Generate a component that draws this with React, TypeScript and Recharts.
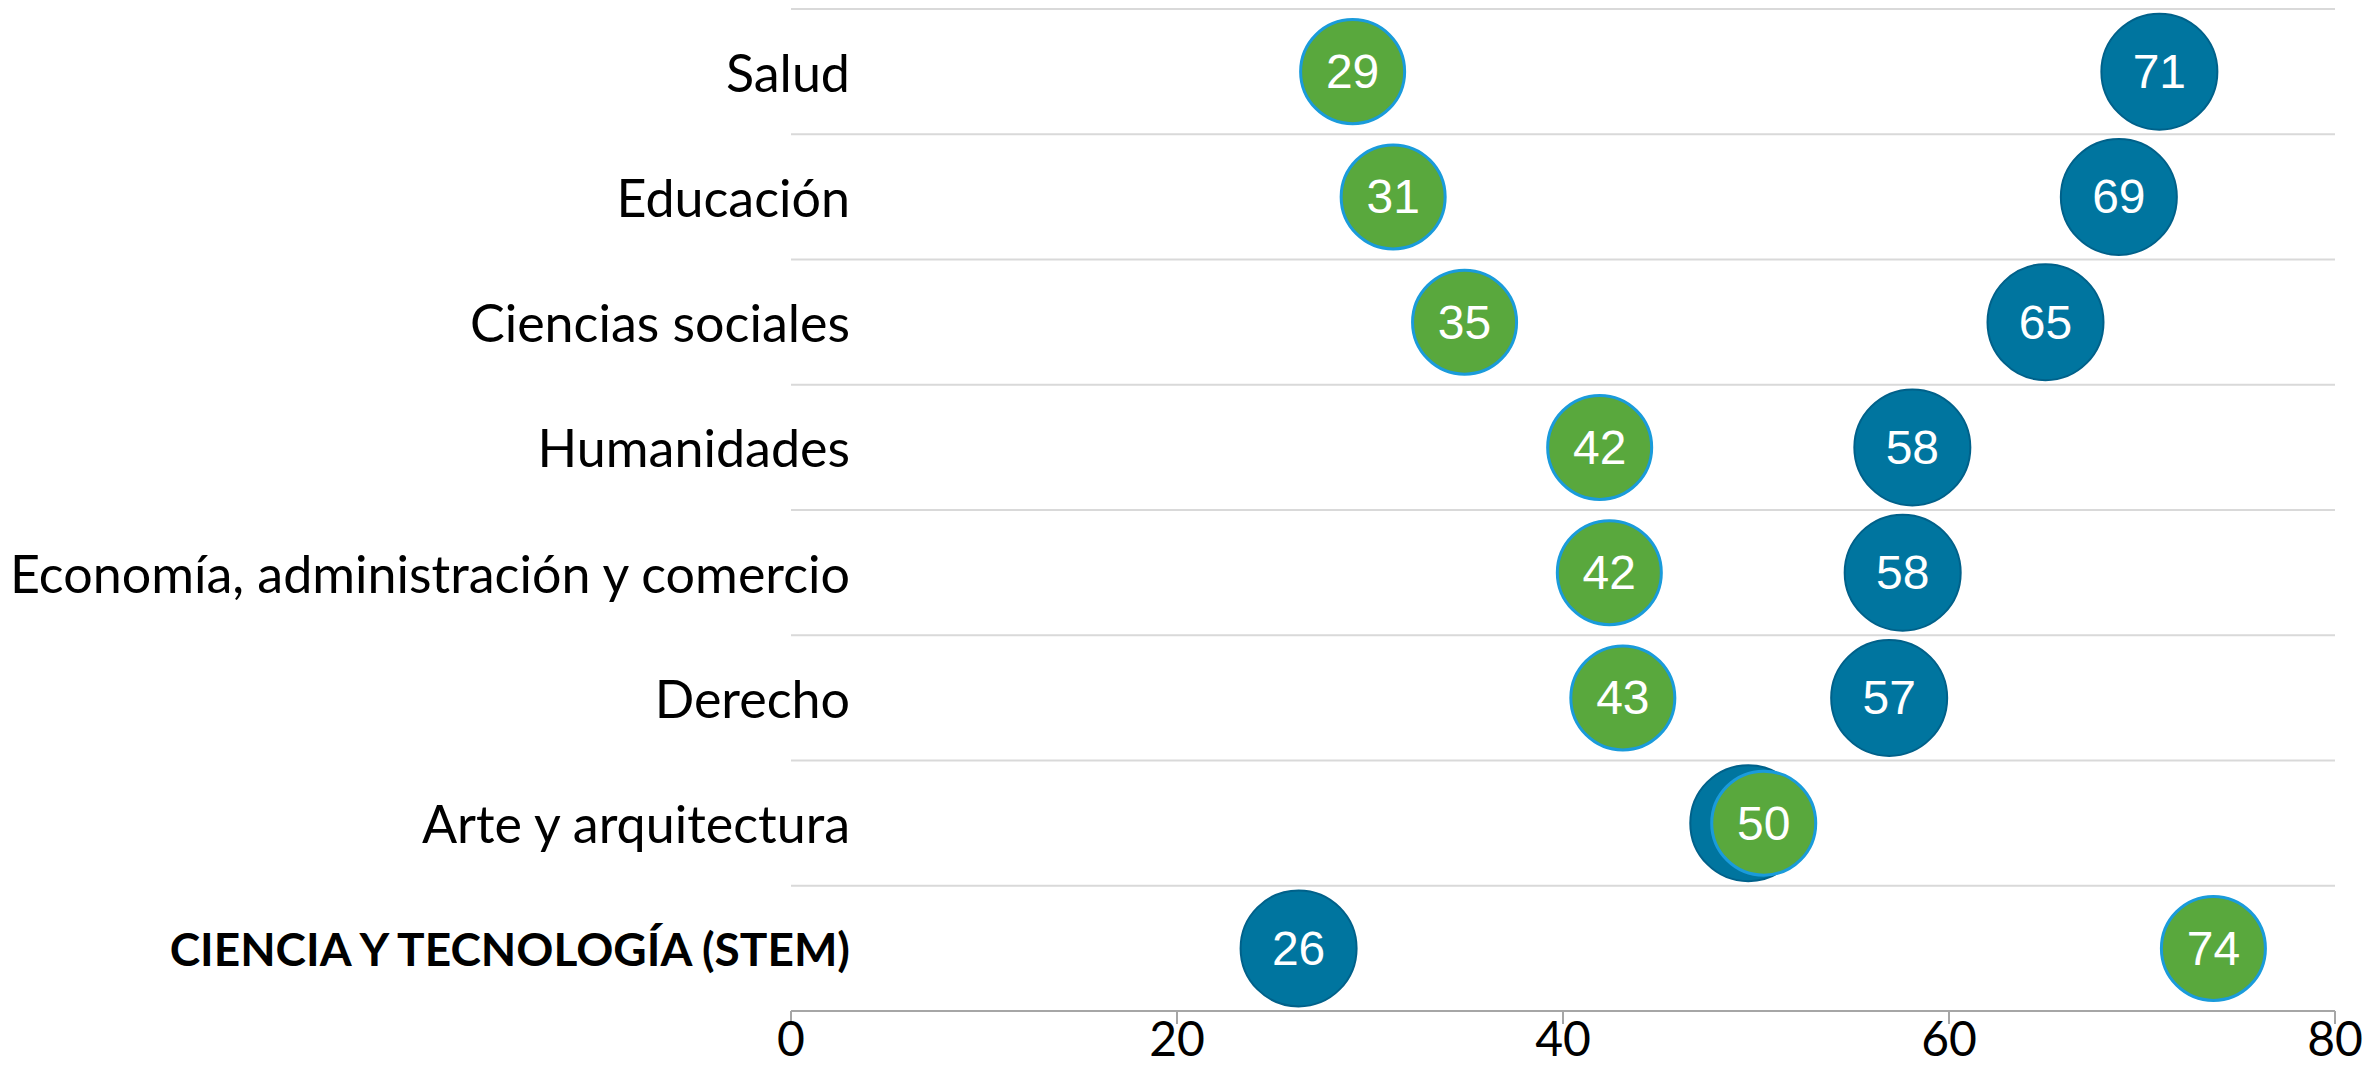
import React from 'react';
import { ReferenceLine, Scatter, ScatterChart, XAxis, YAxis } from 'recharts';

const categories = [
  'Salud',
  'Educación',
  'Ciencias sociales',
  'Humanidades',
  'Economía, administración y comercio',
  'Derecho',
  'Arte y arquitectura',
  'CIENCIA Y TECNOLOGÍA (STEM)',
];

const blueValues = [70.9, 68.8, 65.0, 58.1, 57.6, 56.9, 49.6, 26.3];
const greenValues = [29.1, 31.2, 34.9, 41.9, 42.4, 43.1, 50.4, 73.7];
const xTicks = [0, 20, 40, 60, 80];

const boldCategory = 'CIENCIA Y TECNOLOGÍA (STEM)';

const labelFont = 'Lato, "Noto Sans", sans-serif';
const bubbleFont = '"Liberation Sans", Arial, sans-serif';

// the blue label is hidden when the green bubble sits on top of it
const toPoints = (values: number[], others: number[] | null) =>
  values.map((value, i) => ({
    x: value,
    y: i + 0.5,
    label: others && Math.abs(others[i] - value) < 5 ? '' : String(Math.round(value)),
  }));

const bluePoints = toPoints(blueValues, greenValues);
const greenPoints = toPoints(greenValues, null);

const yTicks = categories.map((_, i) => i + 0.5);
const gridRows = categories.map((_, i) => i);

const makeBubble = (r: number, fill: string, stroke: string, strokeWidth: number) => {
  const Bubble = (props: any) => {
    const { cx, cy, payload } = props;
    if (cx == null || cy == null) return null;
    return (
      <g>
        <circle cx={cx} cy={cy} r={r} fill={fill} stroke={stroke} strokeWidth={strokeWidth} />
        {payload.label ? (
          <text
            x={cx}
            y={cy}
            textAnchor="middle"
            dominantBaseline="central"
            fill="#ffffff"
            fontFamily={bubbleFont}
            fontSize={48}
          >
            {payload.label}
          </text>
        ) : null}
      </g>
    );
  };
  return Bubble;
};

const BlueBubble = makeBubble(58, '#00759f', '#00618a', 2);
const GreenBubble = makeBubble(52, '#59a83d', '#1a9bdb', 3);

const CategoryTick = (props: any) => {
  const { x, y, payload } = props;
  const name = categories[Math.floor(payload.value)];
  const bold = name === boldCategory;
  return (
    <text
      x={x + 59}
      y={y}
      textAnchor="end"
      dominantBaseline="central"
      fill="#000000"
      fontFamily={labelFont}
      fontSize={bold ? 46 : 52}
      fontWeight={bold ? 700 : 400}
    >
      {name}
    </text>
  );
};

export default function App() {
  return (
    <div style={{ position: 'absolute', left: 0, top: 0, background: '#ffffff' }}>
      <ScatterChart width={2366} height={1089} margin={{ top: 9, right: 31, bottom: 0, left: 0 }}>
        {gridRows.map((row) => (
          <ReferenceLine key={row} y={row} stroke="#d9d9d9" strokeWidth={2} />
        ))}
        <XAxis
          type="number"
          dataKey="x"
          domain={[0, 80]}
          ticks={xTicks}
          interval={0}
          height={78}
          axisLine={{ stroke: '#a6a6a6', strokeWidth: 2 }}
          tickLine={{ stroke: '#a6a6a6', strokeWidth: 2 }}
          tickSize={13}
          tickMargin={-2}
          tick={{ fill: '#000000', fontSize: 48, fontFamily: labelFont }}
        />
        <YAxis
          type="number"
          dataKey="y"
          domain={[0, 8]}
          reversed
          ticks={yTicks}
          interval={0}
          width={791}
          axisLine={false}
          tickLine={false}
          tickSize={0}
          tickMargin={0}
          tick={<CategoryTick />}
        />
        <Scatter data={bluePoints} shape={<BlueBubble />} isAnimationActive={false} />
        <Scatter data={greenPoints} shape={<GreenBubble />} isAnimationActive={false} />
      </ScatterChart>
    </div>
  );
}
